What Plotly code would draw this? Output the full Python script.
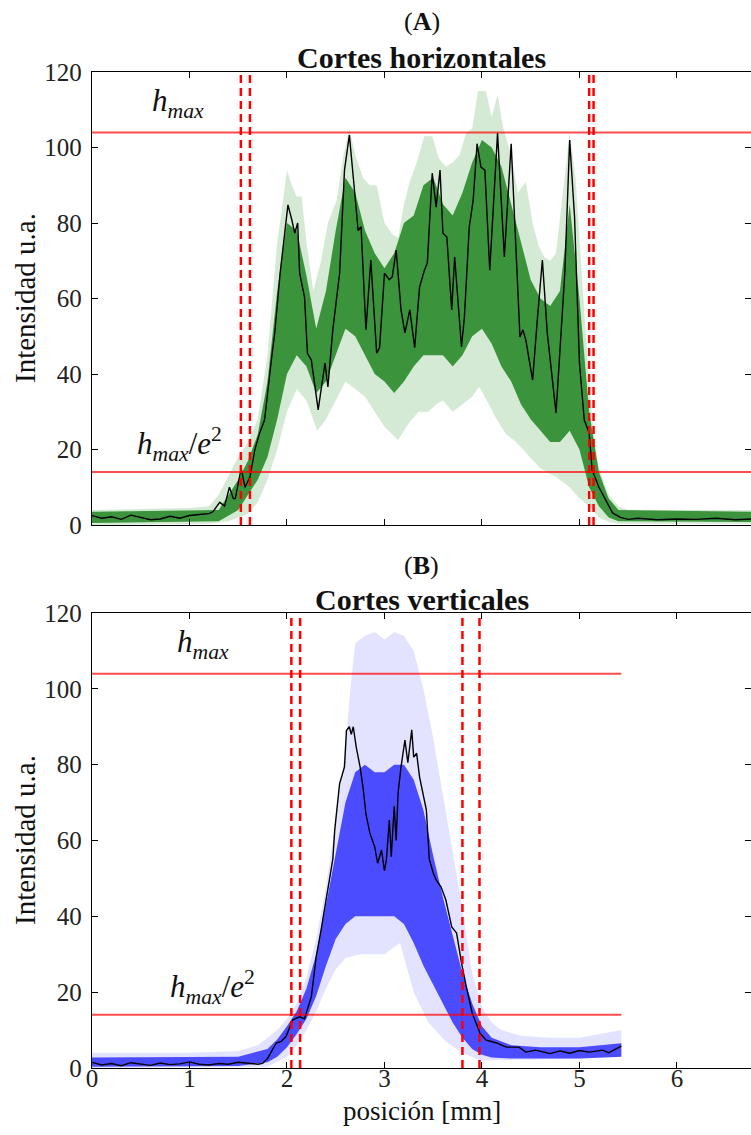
import plotly.graph_objects as go

# ---------------- Panel A: cortes horizontales ----------------
# black reference profile
h_pos = [0, 0.1, 0.2, 0.3, 0.4, 0.5, 0.6, 0.7, 0.8, 0.9, 1.0, 1.1, 1.2, 1.24, 1.31, 1.36,
         1.41, 1.45, 1.47, 1.53, 1.57, 1.62, 1.67, 1.72, 1.77, 1.84, 1.875, 1.93, 1.98, 2.01,
         2.05, 2.08, 2.11, 2.13, 2.18, 2.21, 2.25, 2.32, 2.39, 2.42, 2.47, 2.54, 2.59, 2.64,
         2.68, 2.73, 2.76, 2.81, 2.86, 2.92, 2.95, 3.0, 3.05, 3.08, 3.12, 3.17, 3.21, 3.26,
         3.31, 3.36, 3.41, 3.44, 3.49, 3.53, 3.57, 3.60, 3.64, 3.69, 3.72, 3.79, 3.82, 3.87,
         3.91, 3.95, 3.99, 4.03, 4.08, 4.16, 4.23, 4.30, 4.39, 4.42, 4.45, 4.52, 4.57, 4.62,
         4.67, 4.76, 4.85, 4.90, 4.95, 5.0, 5.05, 5.10, 5.13, 5.20, 5.27, 5.34, 5.42, 5.5,
         5.6, 5.8, 6.0, 6.2, 6.4, 6.6, 6.76]
h_int = [2.5, 1.8, 2.2, 1.5, 2.6, 2.0, 1.4, 1.6, 2.3, 1.8, 2.5, 2.8, 3.0, 3.5, 6, 5,
         10, 7, 7, 15, 10, 12.7, 19.9, 24.4, 27.8, 43.7, 51, 66.8, 79, 84.8,
         80.8, 77.3, 80, 66.7, 60.4, 45.5, 43.7, 30.5, 42.9, 36.6, 51.7, 66.7, 94, 103.3,
         92.2, 78, 79, 51.7, 70.2, 45.5, 47, 66.7, 65, 65.7, 72.8, 57, 50.9, 57,
         47, 63, 67.5, 69.4, 93.2, 84.2, 94, 77.3, 76.3, 57, 71, 47.2, 55, 79,
         86, 101, 94.8, 94, 67.5, 103.8, 71, 101, 49.8, 51.7, 49, 38.4, 55, 70.2,
         50.9, 29.7, 66.7, 102, 81.6, 42.9, 27.8, 24.4, 14.6, 10, 6.6, 3.2, 2.0, 1.5,
         1.8, 1.4, 1.6, 1.5, 1.8, 1.4, 1.6]

# spread of all horizontal cuts: outer limits
h_up_pos = [0, 1.0, 1.2, 1.3, 1.4, 1.5, 1.6, 1.7, 1.8, 1.85, 1.9, 1.95, 2.0, 2.05, 2.1, 2.15,
            2.2, 2.27, 2.35, 2.42, 2.51, 2.58, 2.64, 2.7, 2.78, 2.85, 2.92, 3.0, 3.08, 3.14,
            3.2, 3.26, 3.33, 3.41, 3.49, 3.56, 3.63, 3.7, 3.77, 3.84, 3.9, 3.96, 4.04, 4.1,
            4.16, 4.22, 4.3, 4.37, 4.45, 4.52, 4.58, 4.64, 4.7, 4.76, 4.83, 4.9, 4.96, 5.02,
            5.08, 5.14, 5.2, 5.3, 5.4, 5.5, 6.76]
h_up = [4, 4.5, 5, 8, 13, 18, 22, 28, 45, 60, 75, 84, 94, 90, 87, 87,
        75, 62, 70, 80, 86, 98, 105, 98, 92, 90, 90, 80, 77, 76,
        85, 91, 96, 103, 103, 97, 95, 96, 98, 104, 105, 115, 115, 108,
        114, 105, 98, 88, 91, 80, 74, 71, 70, 72, 88, 104, 92, 68,
        45, 25, 15, 8, 5, 4, 4]
h_lo_pos = [0, 1.2, 1.4, 1.6, 1.7, 1.8, 1.9, 2.0, 2.1, 2.2, 2.31, 2.4, 2.5, 2.6, 2.7, 2.8,
            2.9, 3.0, 3.14, 3.25, 3.35, 3.45, 3.53, 3.6, 3.7, 3.8, 3.9, 3.97, 4.05, 4.15,
            4.25, 4.35, 4.49, 4.6, 4.76, 4.9, 5.0, 5.1, 5.2, 5.3, 5.4, 5.5, 6.76]
h_lo = [0, 0.3, 1, 3, 6, 12, 20, 30, 36, 33, 25, 28, 33, 38, 36, 34,
        30, 26, 22.5, 27, 30, 30, 32, 33, 30, 32, 34, 36.6, 33, 28,
        24, 22, 18, 15, 12.7, 10, 7, 5, 2, 0.8, 0.3, 0.3, 0.3]

# where most horizontal cuts concentrate
h_core_pos = [0, 1.3, 1.5, 1.6, 1.7, 1.8, 1.9, 2.0, 2.1, 2.2, 2.3, 2.4, 2.5, 2.6, 2.7, 2.8,
              2.9, 3.0, 3.1, 3.2, 3.3, 3.4, 3.5, 3.6, 3.7, 3.8, 3.9, 4.0, 4.1, 4.2, 4.3,
              4.4, 4.5, 4.6, 4.7, 4.8, 4.9, 5.0, 5.1, 5.2, 5.3, 5.4, 6.76]
h_core_up = [3.5, 4, 12, 17, 24, 38, 62, 80, 78, 66, 52, 62, 78, 92, 88, 78,
             72, 68, 72, 80, 82, 90, 92, 85, 82, 88, 96, 102, 100, 95, 85,
             75, 65, 60, 58, 62, 85, 60, 30, 14, 7, 4, 3.5]
h_core_lo = [0.5, 1, 4, 8, 12, 18, 28, 40, 45, 42, 35, 38, 45, 52, 50, 45,
             40, 38, 35, 38, 42, 45, 45, 45, 42, 45, 50, 52, 48, 42, 38,
             32, 28, 25, 22, 22, 25, 20, 10, 5, 2, 1, 0.8]

h_cuts = [1.527, 1.62, 5.10, 5.145]
h_span = [0, 6.76]

# ---------------- Panel B: cortes verticales ----------------
v_pos = [0, 0.1, 0.2, 0.3, 0.4, 0.5, 0.6, 0.7, 0.8, 0.9, 1.0, 1.1, 1.2, 1.3, 1.4, 1.5,
         1.6, 1.7, 1.75, 1.8, 1.89, 1.94, 1.99, 2.06, 2.13, 2.18, 2.25, 2.30, 2.35, 2.42,
         2.47, 2.49, 2.54, 2.59, 2.61, 2.64, 2.66, 2.68, 2.71, 2.75, 2.78, 2.81, 2.85, 2.90,
         2.93, 2.97, 3.0, 3.02, 3.05, 3.07, 3.10, 3.12, 3.14, 3.17, 3.21, 3.24, 3.28, 3.30,
         3.33, 3.36, 3.39, 3.43, 3.46, 3.50, 3.53, 3.58, 3.63, 3.69, 3.74, 3.79, 3.84, 3.90,
         3.98, 4.04, 4.15, 4.25, 4.38, 4.45, 4.55, 4.7, 4.8, 4.9, 5.0, 5.1, 5.24, 5.3,
         5.41, 5.43]
v_int = [1.5, 0.8, 1.2, 0.6, 1.4, 1.0, 0.7, 1.3, 0.9, 1.1, 1.6, 1.0, 0.8, 1.2, 1.0, 1.5,
         1.3, 1.0, 1.2, 2.5, 6.6, 7, 8.3, 12.7, 13.5, 13, 18.8, 29.4, 36.4, 47,
         55, 62.8, 75, 79.4, 89, 90, 88, 90, 84.7, 79.4, 74, 67, 62, 58.3,
         54, 57.5, 52, 55, 65.4, 55.7, 69, 60, 72.6, 79.4, 86.5, 80.5, 89.2, 82,
         83, 76.8, 72.6, 68, 55, 51.5, 49.6, 47.8, 44.3, 37.2, 35.6, 27.7, 21.4, 14.5,
         9.2, 7.4, 6.6, 5.5, 5.5, 4.2, 4.7, 3.8, 4.5, 3.9, 4.6, 4.2, 4.7, 4.0,
         5.5, 5.8]

v_up_pos = [0, 1.0, 1.5, 1.7, 1.8, 1.9, 2.0, 2.1, 2.2, 2.3, 2.4, 2.5, 2.6, 2.65, 2.7, 2.8,
            2.9, 3.0, 3.1, 3.2, 3.3, 3.4, 3.5, 3.6, 3.7, 3.8, 3.9, 4.0, 4.1, 4.2, 4.4,
            4.7, 5.0, 5.2, 5.43]
v_up = [4, 4, 4.5, 6, 8, 10, 13, 17, 24, 34, 48, 65, 85, 100, 112, 114,
        115, 113, 115, 114, 110, 100, 87, 72, 58, 42, 25, 16, 12, 10, 8.5,
        8, 8, 9, 10]
v_lo_pos = [0, 1.8, 2.0, 2.1, 2.2, 2.3, 2.4, 2.5, 2.6, 2.75, 2.9, 3.0, 3.16, 3.3, 3.45, 3.63,
            3.8, 3.98, 4.2, 4.5, 5.0, 5.43]
v_lo = [0, 0.3, 3, 6, 10, 15, 21, 26, 29, 30, 30, 30, 33, 20, 12, 7,
        4, 2, 2, 2.2, 2.5, 3]

v_core_pos = [0, 1.5, 1.8, 1.9, 2.0, 2.1, 2.2, 2.3, 2.4, 2.5, 2.6, 2.7, 2.8, 2.9, 3.0, 3.1,
              3.2, 3.3, 3.4, 3.5, 3.6, 3.7, 3.8, 3.9, 4.0, 4.1, 4.3, 4.6, 5.0, 5.43]
v_core_up = [2.8, 3, 5, 7.5, 11, 15, 21, 30, 43, 57, 70, 78, 80, 78, 78, 80,
             80, 76, 68, 56, 45, 35, 25, 17, 11, 8, 6, 5.5, 5.5, 6.5]
v_core_lo = [0.3, 0.5, 1.5, 3, 5.5, 9, 13, 19, 27, 34, 38, 40, 40, 40, 40, 40,
             38, 33, 27, 22, 17, 12, 8, 5, 3.5, 2.8, 2.5, 2.5, 2.5, 3]

v_cuts = [2.045, 2.135, 3.80, 3.975]
v_span = [0, 5.43]

h_max = 104.0
h_e2 = 14.07

x_ticks = [0, 1, 2, 3, 4, 5, 6]
y_ticks = [0, 20, 40, 60, 80, 100, 120]

SERIF = "Liberation Serif, Times New Roman, serif"
TICK_SIZE = 25

fig = go.Figure()


def band(xa, ya, xb, yb, color, xref, yref):
    fig.add_trace(go.Scatter(
        x=list(xa) + list(reversed(xb)),
        y=list(ya) + list(reversed(yb)),
        fill="toself", fillcolor=color, mode="lines", line=dict(width=0),
        hoverinfo="skip", showlegend=False, xaxis=xref, yaxis=yref))


def panel(xref, yref, up_pos, up, lo_pos, lo, core_pos, core_up, core_lo,
          faint, dense, pos, inten, cuts, span):
    band(up_pos, up, lo_pos, lo, faint, xref, yref)
    band(core_pos, core_up, core_pos, core_lo, dense, xref, yref)
    fig.add_trace(go.Scatter(x=pos, y=inten, mode="lines",
                             line=dict(color="black", width=1.4),
                             showlegend=False, xaxis=xref, yaxis=yref))
    for level in (h_max, h_e2):
        fig.add_trace(go.Scatter(x=span, y=[level, level], mode="lines",
                                 line=dict(color="rgba(255,0,0,0.7)", width=2),
                                 showlegend=False, xaxis=xref, yaxis=yref))
    for c in cuts:
        fig.add_trace(go.Scatter(x=[c, c], y=[0, 120], mode="lines",
                                 line=dict(color="red", width=2.5, dash="8px,5px"),
                                 showlegend=False, xaxis=xref, yaxis=yref))


panel("x", "y", h_up_pos, h_up, h_lo_pos, h_lo, h_core_pos, h_core_up, h_core_lo,
      "rgba(0,128,0,0.17)", "rgba(0,115,0,0.72)", h_pos, h_int, h_cuts, h_span)
panel("x2", "y2", v_up_pos, v_up, v_lo_pos, v_lo, v_core_pos, v_core_up, v_core_lo,
      "rgba(0,0,255,0.11)", "rgba(10,10,255,0.7)", v_pos, v_int, v_cuts, v_span)

W, H = 751, 1135
L, R, T, B = 92, 0, 72, 67
PH = H - T - B
top_dom = [(H - B - 525) / PH, 1.0]
bot_dom = [0.0, (H - B - 613) / PH]

axis_common = dict(
    range=[0, 6.76], tickvals=x_ticks, ticks="inside", ticklen=6, tickwidth=1,
    tickcolor="black", showline=True, linecolor="black", linewidth=1.3,
    mirror="ticks", showgrid=False, zeroline=False,
    tickfont=dict(family=SERIF, size=TICK_SIZE, color="#222"),
)
yaxis_common = dict(
    range=[0, 120], tickvals=y_ticks, ticks="inside", ticklen=6, tickwidth=1,
    tickcolor="black", showline=True, linecolor="black", linewidth=1.3,
    mirror="ticks", showgrid=False, zeroline=False,
    tickfont=dict(family=SERIF, size=TICK_SIZE, color="#222"),
    ticklabelstandoff=4,
)

fig.update_layout(
    width=W, height=H,
    margin=dict(l=L, r=R, t=T, b=B, pad=0),
    paper_bgcolor="white", plot_bgcolor="white",
    xaxis=dict(axis_common, anchor="y", showticklabels=False),
    yaxis=dict(yaxis_common, domain=top_dom, anchor="x"),
    xaxis2=dict(axis_common, anchor="y2", ticklabelstandoff=-12),
    yaxis2=dict(yaxis_common, domain=bot_dom, anchor="x2"),
)


def px_y(py):
    return (H - B - py) / PH


def px_x(px):
    return (px - L) / (W - L - R)


notes = [
    dict(text="(<b>A</b>)", x=0.5, y=px_y(21), size=26),
    dict(text="<b>Cortes horizontales</b>", x=0.5, y=px_y(57), size=30),
    dict(text="(<b>B</b>)", x=0.5, y=px_y(565), size=26),
    dict(text="<b>Cortes verticales</b>", x=0.5, y=px_y(600), size=30),
    dict(text="posición [mm]", x=0.5, y=px_y(1111), size=27),
]
for n in notes:
    fig.add_annotation(text=n["text"], x=n["x"], y=n["y"], xref="paper", yref="paper",
                       showarrow=False, xanchor="center", yanchor="middle", borderpad=0,
                       font=dict(family=SERIF, size=n["size"], color="#111"))

for yc in (px_y(298), px_y(840)):
    fig.add_annotation(text="Intensidad u.a.", x=px_x(25), y=yc, xref="paper", yref="paper",
                       showarrow=False, textangle=-90, xanchor="center", yanchor="middle",
                       font=dict(family=SERIF, size=29, color="#111"))

hm = "<i>h</i><sub><i>max</i></sub>"
he = "<i>h</i><sub><i>max</i></sub>/<i>e</i><sup>2</sup>"
labels = [
    ("x", "y", hm, 0.88, 106),
    ("x", "y", he, 0.90, 15),
    ("x2", "y2", hm, 1.14, 106),
    ("x2", "y2", he, 1.24, 15),
]
for xr, yr, t, xv, yv in labels:
    fig.add_annotation(text=t, x=xv, y=yv, xref=xr, yref=yr, showarrow=False,
                       xanchor="center", yanchor="bottom",
                       font=dict(family=SERIF, size=31, color="#111"))

fig.write_html("out.html")
